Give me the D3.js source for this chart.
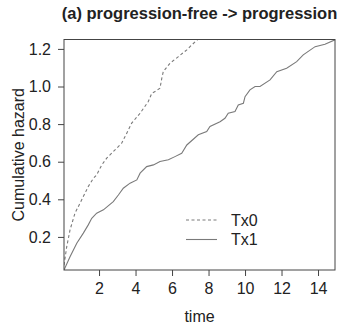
<!DOCTYPE html>
<html>
<head>
<meta charset="utf-8">
<script src="https://cdn.jsdelivr.net/npm/d3@7"></script>
<style>
  body { margin: 0; background: #fff; }
  text { font-family: "Liberation Sans", Arial, sans-serif; fill: #222; }
</style>
</head>
<body>
<svg id="chart"></svg>
<script>
const width = 339, height = 329;
const line_color = "#7a7a7a", box_color = "#444";

// cumulative hazard
const tx0_time = [0.08, 0.23, 0.41, 0.68, 1.05, 1.41, 1.69, 1.87, 2.15, 2.42, 2.78, 3.24, 3.52, 3.79, 4.25, 4.70, 4.89, 5.07, 5.34, 5.44, 5.52, 5.89, 6.35, 6.81, 7.08, 7.44];
const tx0_haz  = [0.05, 0.148, 0.237, 0.326, 0.397, 0.468, 0.512, 0.530, 0.583, 0.619, 0.654, 0.698, 0.752, 0.805, 0.858, 0.920, 0.964, 0.973, 0.991, 1.044, 1.079, 1.124, 1.159, 1.195, 1.221, 1.253];

const tx1_time = [0.08, 0.41, 0.78, 1.14, 1.41, 1.60, 1.87, 2.24, 2.78, 3.06, 3.33, 3.70, 4.07, 4.25, 4.61, 4.98, 5.34, 5.80, 6.16, 6.53, 6.81, 7.44, 7.90, 8.08, 8.63, 8.90, 9.08, 9.45, 9.63, 9.91, 10.0, 10.27, 10.55, 10.82, 11.37, 11.74, 12.28, 12.83, 13.19, 13.84, 14.38, 14.93];
const tx1_haz  = [0.024, 0.095, 0.166, 0.220, 0.264, 0.299, 0.326, 0.344, 0.388, 0.423, 0.459, 0.486, 0.503, 0.539, 0.574, 0.583, 0.601, 0.610, 0.627, 0.645, 0.689, 0.743, 0.760, 0.787, 0.813, 0.831, 0.858, 0.867, 0.902, 0.911, 0.946, 0.982, 1.0, 1.0, 1.035, 1.079, 1.097, 1.132, 1.168, 1.212, 1.225, 1.248];

const x_ticks = [2, 4, 6, 8, 10, 12, 14];
const y_ticks = [0.2, 0.4, 0.6, 0.8, 1.0, 1.2];
const series_names = ["Tx0", "Tx1"];

const margin = {top: 39.5, right: 4, bottom: 59, left: 64};

const svg = d3.select("#chart")
  .attr("width", width)
  .attr("height", height);

const x = d3.scaleLinear().domain([0.08, 14.93]).range([margin.left, width - margin.right]);
const y = d3.scaleLinear().domain([0.024, 1.25]).range([height - margin.bottom, margin.top]);

svg.append("clipPath").attr("id", "clip")
  .append("rect")
  .attr("x", margin.left).attr("y", margin.top)
  .attr("width", x.range()[1] - margin.left)
  .attr("height", y.range()[0] - margin.top);

// axes
const xAxis = svg.append("g")
  .attr("transform", `translate(0,${y.range()[0]})`)
  .call(d3.axisBottom(x).tickValues(x_ticks).tickSize(6).tickPadding(7).tickFormat(d3.format("d")));
const yAxis = svg.append("g")
  .attr("transform", `translate(${margin.left},0)`)
  .call(d3.axisLeft(y).tickValues(y_ticks).tickSize(6).tickPadding(7).tickFormat(d3.format(".1f")));

[xAxis, yAxis].forEach(g => {
  g.select(".domain").remove();
  g.selectAll(".tick line").attr("stroke", box_color);
  g.selectAll(".tick text").attr("font-size", 16).attr("fill", "#222")
    .attr("font-family", "Liberation Sans, Arial, sans-serif");
});

// curves
const line = d3.line().x(d => x(d[0])).y(d => y(d[1]));

svg.append("path")
  .datum(d3.zip(tx0_time, tx0_haz))
  .attr("d", line)
  .attr("clip-path", "url(#clip)")
  .attr("fill", "none")
  .attr("stroke", line_color)
  .attr("stroke-width", 1.1)
  .attr("stroke-dasharray", "3,2.5");

svg.append("path")
  .datum(d3.zip(tx1_time, tx1_haz))
  .attr("d", line)
  .attr("clip-path", "url(#clip)")
  .attr("fill", "none")
  .attr("stroke", line_color)
  .attr("stroke-width", 1.1);

// plot box
svg.append("rect")
  .attr("x", margin.left).attr("y", margin.top)
  .attr("width", x.range()[1] - margin.left)
  .attr("height", y.range()[0] - margin.top)
  .attr("fill", "none")
  .attr("stroke", box_color)
  .attr("stroke-width", 1);

// legend
const legend = svg.append("g").attr("transform", "translate(186,220)");
series_names.forEach((name, i) => {
  legend.append("line")
    .attr("x1", 0).attr("x2", 31)
    .attr("y1", i * 19.5).attr("y2", i * 19.5)
    .attr("stroke", line_color)
    .attr("stroke-width", 1.1)
    .attr("stroke-dasharray", i === 0 ? "3,2.5" : null);
  legend.append("text")
    .attr("x", 45).attr("y", i * 19.5 + 5.8)
    .attr("font-size", 16)
    .text(name);
});

// titles
svg.append("text")
  .attr("x", (margin.left + x.range()[1]) / 2)
  .attr("y", 19)
  .attr("text-anchor", "middle")
  .attr("font-size", 16.5)
  .attr("font-weight", "bold")
  .text("(a) progression-free -> progression");

svg.append("text")
  .attr("x", (margin.left + x.range()[1]) / 2)
  .attr("y", 322)
  .attr("text-anchor", "middle")
  .attr("font-size", 16)
  .text("time");

svg.append("text")
  .attr("transform", `translate(23.5,${(margin.top + y.range()[0]) / 2}) rotate(-90)`)
  .attr("text-anchor", "middle")
  .attr("font-size", 16)
  .text("Cumulative hazard");
</script>
</body>
</html>
